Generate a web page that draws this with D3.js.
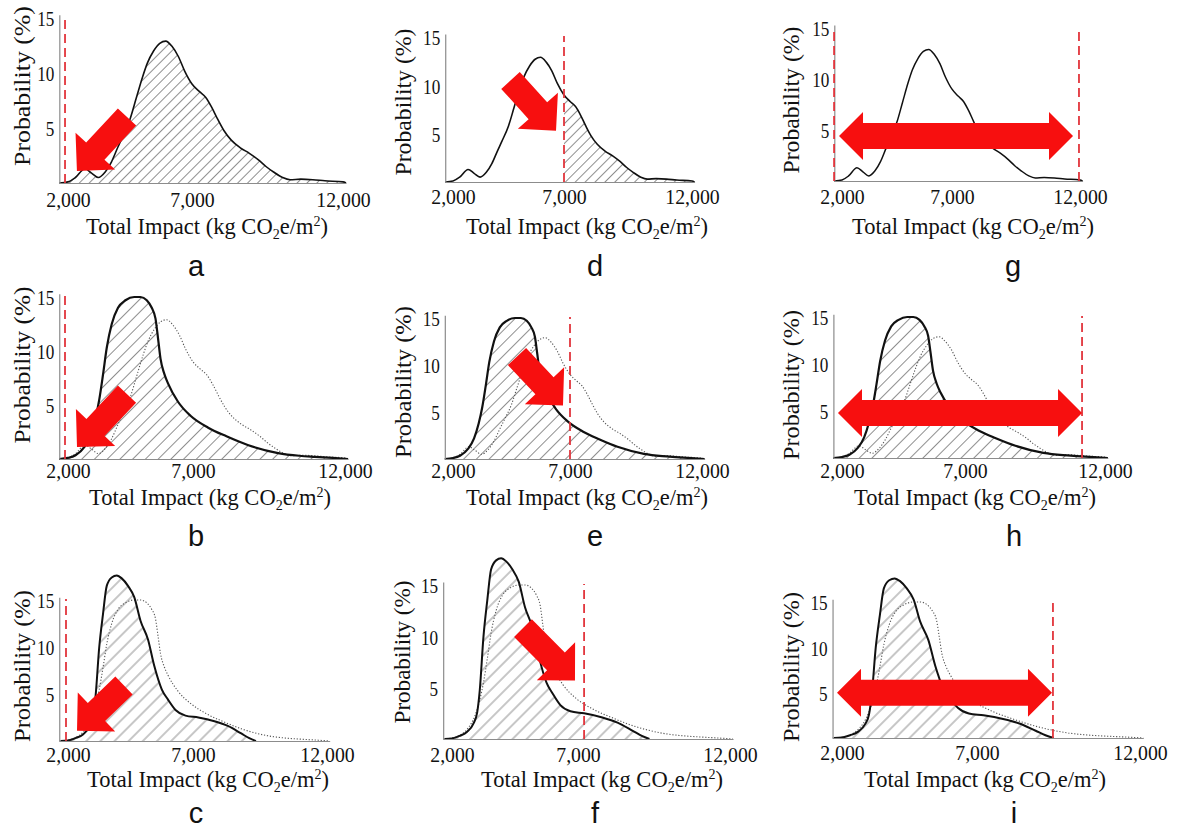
<!DOCTYPE html>
<html><head><meta charset="utf-8">
<script src="https://cdn.jsdelivr.net/npm/d3@7"></script>
<style>html,body{margin:0;padding:0;background:#fff;} svg{display:block;}</style>
</head><body>
<svg id="chart" width="1177" height="831"></svg>
<script>
// ---------------- DATA ----------------
const xTickValues = [2000, 7000, 12000];
const xTickLabels = ["2,000", "7,000", "12,000"];
const yTickValues = [5, 10, 15];
const xAxisExtent = [1650, 12100];
const yAxisTop = 15.3;

// baseline distribution (solid in a,d,g; dotted in b,e,h)
const curveA_x = [1650,2000,2300,2680,2950,3220,3500,3750,4000,4200,4500,4750,5000,5200,5450,5700,5940,6200,6450,6700,7000,7250,7450,7650,7850,8050,8300,8600,8900,9200,9450,9700,10000,10250,10600,11000,11400,12000,12100];
const curveA_y = [0,0.1,0.5,1.3,0.9,0.5,1.0,1.9,3.2,4.2,5.8,7.7,9.6,10.9,12.0,12.7,12.9,12.4,11.5,10.2,9.0,8.3,7.8,6.9,5.8,4.8,3.9,3.2,2.7,2.1,1.5,1.0,0.5,0.3,0.35,0.3,0.2,0.1,0];
// second distribution (solid in b,e,h; dotted in c,f,i)
const curveB_x = [1650,2000,2300,2650,2900,3100,3250,3400,3550,3750,4000,4300,4650,4900,5150,5350,5500,5600,5700,5850,6000,6400,6900,7500,8100,8800,9800,10500,11000,11600,12100];
const curveB_y = [0,0.1,0.35,1.1,2.2,3.8,5.5,7.8,10.3,12.5,14.0,14.7,15.0,15.0,14.7,14.0,13.0,11.2,9.3,7.9,7.0,5.3,4.0,2.9,2.1,1.3,0.55,0.3,0.2,0.1,0];
// third distribution (solid in c,f,i)
const curveC_x = [1700,2000,2300,2600,2850,3000,3100,3250,3400,3550,3750,3950,4150,4400,4650,4900,5200,5450,5750,6000,6300,6700,7200,7800,8300,8800,9100,9350];
const curveC_y = [0,0.05,0.3,0.7,1.5,2.6,4.7,10.0,13.5,16.5,17.4,17.6,17.3,16.5,15.3,12.8,10.8,8.0,5.5,4.4,3.3,2.7,2.5,2.1,1.6,0.8,0.3,0];

const panelIds      = ["a","b","c","d","e","f","g","h","i"];
const panelSolid    = ["A","B","C","A","B","C","A","B","C"];
const panelDotted   = [null,"A","B",null,"A","B",null,"A","B"];
const panelHatchFrom= [1650,1650,1650,7000,1650,1650,null,1650,1650];
const panelThresholds = [[1880],[1880],[1920],[7000],[7000],[7200],[1640,11960],[11180],[9330]];
const thresholdTop = 15.1;
const arrowTail = [[4380,6.0],[4360,6.0],[4240,5.9],[4590,10.5],[4735,10.9],[4817,10.8],null,null,null];
const arrowTip  = [[2360,1.1],[2360,1.1],[2360,1.1],[6640,5.3],[6700,5.7],[6880,5.7],null,null,null];
const rangeArrowFrom = [null,null,null,null,null,null,1864,1837,1815];
const rangeArrowTo   = [null,null,null,null,null,null,11727,11180,9300];
const rangeArrowY    = [null,null,null,null,null,null,4.4,4.8,5.0];
const yTitle = "Probability (%)";

// ---------------- LAYOUT ----------------
const layout = {
 a:{xr:[68,192,343], y0:183, y15:18, tickBase:207, titleX:207, titleBase:234, yTitleX:30, yTitleY:86, yTitleLen:160, letterX:196, letterBase:276, hatch:7, lw:1.6},
 b:{xr:[68,193,345], y0:459, y15:297, tickBase:478, titleX:210, titleBase:505, yTitleX:30, yTitleY:365, yTitleLen:157, letterX:196, letterBase:546, hatch:9, lw:2.2},
 c:{xr:[68,193,327], y0:741, y15:600, tickBase:762, titleX:208, titleBase:787, yTitleX:30, yTitleY:666, yTitleLen:152, letterX:196, letterBase:823, hatch:10, lw:2.0},
 d:{xr:[453,564,692], y0:182, y15:37, tickBase:204, titleX:587, titleBase:234, yTitleX:411, yTitleY:102, yTitleLen:147, letterX:595, letterBase:276, hatch:7, lw:1.6},
 e:{xr:[453,570,702], y0:459, y15:318, tickBase:478, titleX:587, titleBase:505, yTitleX:411, yTitleY:382, yTitleLen:152, letterX:595, letterBase:546, hatch:9, lw:2.2},
 f:{xr:[452,578,730], y0:739, y15:585, tickBase:762, titleX:602, titleBase:787, yTitleX:410, yTitleY:652, yTitleLen:143, letterX:595, letterBase:823, hatch:10, lw:2.0},
 g:{xr:[842,952,1080], y0:181, y15:28, tickBase:204, titleX:973, titleBase:234, yTitleX:799, yTitleY:100, yTitleLen:147, letterX:1013, letterBase:276, hatch:7, lw:1.5},
 h:{xr:[842,965,1105], y0:458, y15:317, tickBase:478, titleX:975, titleBase:505, yTitleX:799, yTitleY:385, yTitleLen:150, letterX:1014, letterBase:546, hatch:9, lw:2.2},
 i:{xr:[842,977,1140], y0:738, y15:602, tickBase:760, titleX:985, titleBase:787, yTitleX:799, yTitleY:667, yTitleLen:150, letterX:1014, letterBase:823, hatch:10, lw:2.0}
};
const SERIF = "'Liberation Serif','Times New Roman',serif";
const SANS = "'Liberation Sans',Arial,sans-serif";
const RED = "#f70f0f";
const DASHRED = "#e2353c";
const xTitleWidth = 242;

// ---------------- DRAW ----------------
const svg = d3.select("#chart");
svg.append("rect").attr("width",1177).attr("height",831).attr("fill","#fff");
const defs = svg.append("defs");
const curves = {A: d3.zip(curveA_x, curveA_y), B: d3.zip(curveB_x, curveB_y), C: d3.zip(curveC_x, curveC_y)};

panelIds.forEach((id, k) => {
  const L = layout[id];
  const [x2, x7, x12] = L.xr;
  const sL = (x7 - x2) / (xTickValues[1] - xTickValues[0]);
  const sR = (x12 - x7) / (xTickValues[2] - xTickValues[1]);
  const x = d3.scaleLinear()
    .domain([xAxisExtent[0], ...xTickValues, xAxisExtent[1]])
    .range([x2 - (xTickValues[0] - xAxisExtent[0]) * sL, x2, x7, x12, x12 + (xAxisExtent[1] - xTickValues[2]) * sR]);
  const y = d3.scaleLinear().domain([0, 15]).range([L.y0, L.y15]);
  const g = svg.append("g").attr("class", "panel panel-" + id);

  // hatch pattern
  const pat = defs.append("pattern").attr("id", "hatch-" + id)
    .attr("patternUnits", "userSpaceOnUse").attr("width", L.hatch).attr("height", L.hatch)
    .attr("patternTransform", "rotate(45)");
  pat.append("line").attr("x1", L.hatch/2).attr("y1", -1).attr("x2", L.hatch/2).attr("y2", L.hatch+1)
    .attr("stroke", "#8f8f8f").attr("stroke-width", 1);

  const solid = curves[panelSolid[k]];
  const area = d3.area().x(d => x(d[0])).y0(y(0)).y1(d => y(d[1])).curve(d3.curveMonotoneX);
  const line = d3.line().x(d => x(d[0])).y(d => y(d[1])).curve(d3.curveMonotoneX);

  if (panelHatchFrom[k] !== null) {
    defs.append("clipPath").attr("id", "clip-" + id).append("rect")
      .attr("x", x(panelHatchFrom[k])).attr("y", y(20))
      .attr("width", x(xAxisExtent[1]) - x(panelHatchFrom[k]) + 5).attr("height", y(0) - y(20));
    g.append("path").datum(solid).attr("d", area)
      .attr("fill", `url(#hatch-${id})`).attr("clip-path", `url(#clip-${id})`);
  }
  if (panelDotted[k]) {
    g.append("path").datum(curves[panelDotted[k]]).attr("d", line)
      .attr("fill", "none").attr("stroke", "#555").attr("stroke-width", 1.1)
      .attr("stroke-dasharray", "1.2,1.8");
  }
  g.append("path").datum(solid).attr("d", line)
    .attr("fill", "none").attr("stroke", "#111").attr("stroke-width", L.lw);

  // axes
  const xAxis = g.append("g").attr("transform", `translate(0,${y(0)})`)
    .call(d3.axisBottom(x).tickValues(xTickValues).tickFormat((d, j) => xTickLabels[j]).tickSize(0));
  xAxis.select(".domain").attr("stroke", "#8c8c8c").attr("stroke-width", 1.2);
  xAxis.selectAll("text").attr("y", 0).attr("dy", 0)
    .attr("transform", `translate(0,${L.tickBase - y(0)}) scale(0.9,1)`)
    .attr("font-family", SERIF).attr("font-size", 22).attr("fill", "#111");

  const yAx = d3.scaleLinear().domain([0, yAxisTop]).range([y(0), y(yAxisTop)]);
  const yAxis = g.append("g").attr("transform", `translate(${x(xAxisExtent[0])},0)`)
    .call(d3.axisLeft(yAx).tickValues(yTickValues).tickSize(0));
  yAxis.select(".domain").attr("stroke", "#8c8c8c").attr("stroke-width", 1.2);
  yAxis.selectAll("text").attr("x", 0).attr("dy", "0.35em")
    .attr("transform", "translate(-5,0) scale(0.78,1)")
    .attr("font-family", SERIF).attr("font-size", 22).attr("fill", "#111");

  // thresholds
  panelThresholds[k].forEach(t => {
    g.append("line").attr("x1", x(t)).attr("x2", x(t)).attr("y1", y(0)).attr("y2", y(thresholdTop))
      .attr("stroke", DASHRED).attr("stroke-width", 1.8).attr("stroke-dasharray", "9,5");
  });

  // arrows
  if (arrowTail[k]) {
    const tail = [x(arrowTail[k][0]), y(arrowTail[k][1])];
    const tip = [x(arrowTip[k][0]), y(arrowTip[k][1])];
    const dx = tip[0] - tail[0], dy = tip[1] - tail[1], len = Math.hypot(dx, dy);
    const u = [dx/len, dy/len], p = [-u[1], u[0]];
    const sw = 25, hw = 54, hl = 27;
    const base = [tip[0] - u[0]*hl, tip[1] - u[1]*hl];
    const pt = (o, w) => [o[0] + p[0]*w, o[1] + p[1]*w];
    const pts = [pt(tail, sw/2), pt(base, sw/2), pt(base, hw/2), tip, pt(base, -hw/2), pt(base, -sw/2), pt(tail, -sw/2)];
    g.append("polygon").attr("points", pts.map(q => q.join(",")).join(" ")).attr("fill", RED);
  }
  if (rangeArrowFrom[k] !== null) {
    const xl = x(rangeArrowFrom[k]), xr = x(rangeArrowTo[k]), yc = y(rangeArrowY[k]);
    const sw = 26, hh = 48, hl = 24;
    const pts = [[xl, yc], [xl+hl, yc-hh/2], [xl+hl, yc-sw/2], [xr-hl, yc-sw/2], [xr-hl, yc-hh/2], [xr, yc],
                 [xr-hl, yc+hh/2], [xr-hl, yc+sw/2], [xl+hl, yc+sw/2], [xl+hl, yc+hh/2]];
    g.append("polygon").attr("points", pts.map(q => q.join(",")).join(" ")).attr("fill", RED);
  }

  // x title
  const xt = g.append("text").attr("text-anchor", "middle").attr("font-family", SERIF)
    .attr("font-size", 24).attr("fill", "#111");
  xt.append("tspan").text("Total Impact (kg CO");
  xt.append("tspan").attr("font-size", 15).attr("dy", 5).text("2");
  xt.append("tspan").attr("dy", -5).text("e/m");
  xt.append("tspan").attr("font-size", 15).attr("dy", -8).text("2");
  xt.append("tspan").attr("dy", 8).text(")");
  const wx = xt.node().getComputedTextLength();
  xt.attr("transform", `translate(${L.titleX},${L.titleBase}) scale(${xTitleWidth / wx},1)`);

  // y title
  const yt = g.append("text").attr("text-anchor", "middle").attr("font-family", SERIF)
    .attr("font-size", 24).attr("fill", "#111").text(yTitle);
  const wy = yt.node().getComputedTextLength();
  yt.attr("transform", `translate(${L.yTitleX},${L.yTitleY}) rotate(-90) scale(${L.yTitleLen / wy},1)`);

  // panel letter
  g.append("text").attr("x", L.letterX).attr("y", L.letterBase).attr("text-anchor", "middle")
    .attr("font-family", SANS).attr("font-size", 29).attr("fill", "#111").text(id);
});
</script>
</body></html>
